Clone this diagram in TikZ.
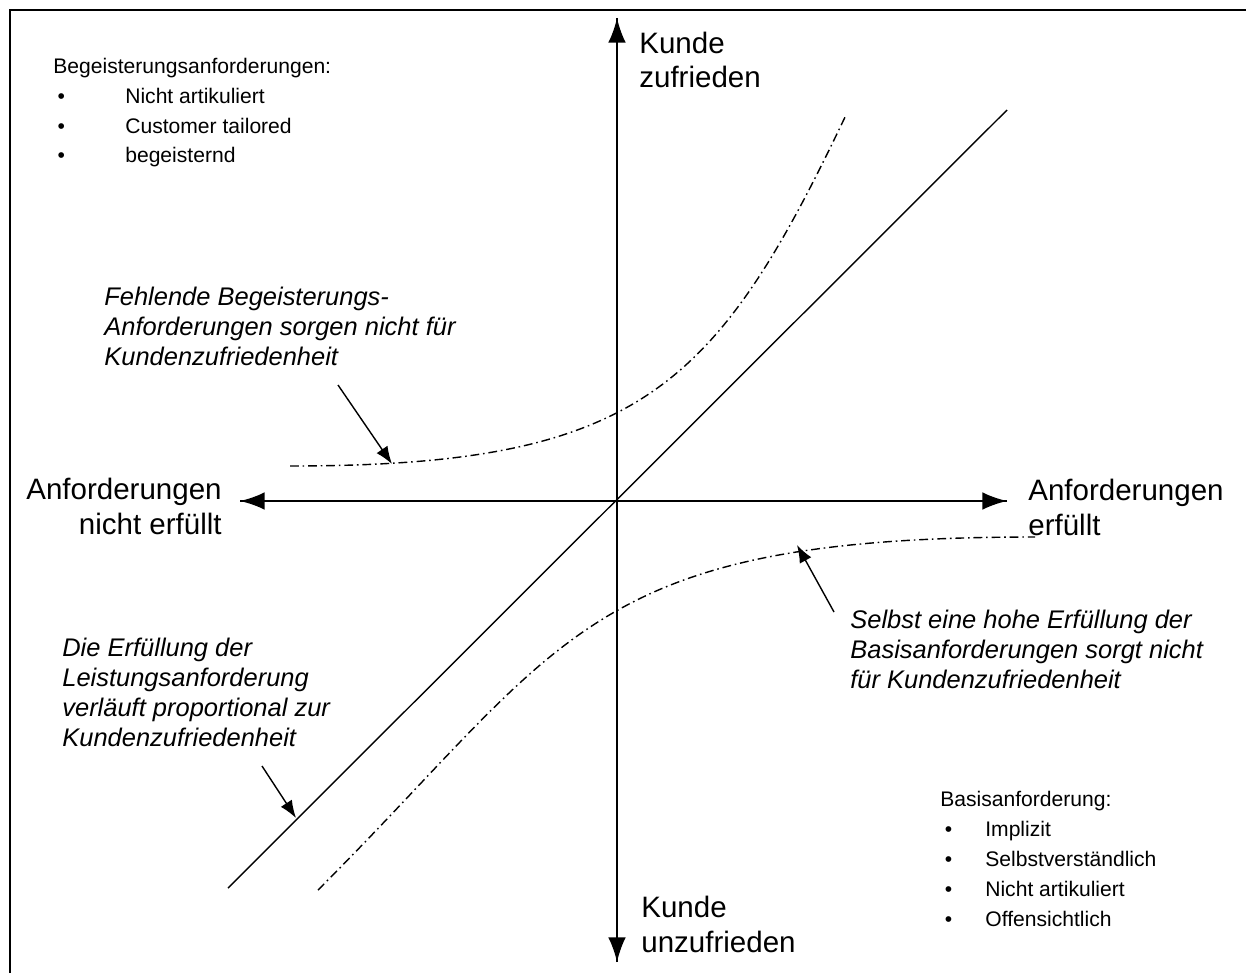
\documentclass[tikz,border=0pt]{standalone}
\usepackage{fontspec}
\setmainfont{Liberation Sans}
\usetikzlibrary{arrows.meta}
\newcommand\listdot[1]{\makebox[#1][l]{\hspace{2.5pt}\textbullet}}

\begin{document}
\begin{tikzpicture}[x=.02cm,y=-.02cm,
axis/.style={-{Latex[length=14pt,width=10pt]},line width=1.1pt},
note/.style={-{Latex[length=10pt,width=7.5pt]},line width=.8pt},
curve/.style={line width=.8pt,dash pattern=on 5pt off 2.2pt on .9pt off 2.2pt},
big/.style={inner sep=0,font=\fontsize{16.8}{19.8}\selectfont},
small/.style={inner sep=0,align=left,font=\fontsize{12}{17}\selectfont},
remark/.style={inner sep=0,align=left,font=\fontsize{14.5}{17}\selectfont\itshape}]
\useasboundingbox (0,0) rectangle (1246,973);
\draw[line width=1.6pt] (10,973)--(10,10)--(1246,10);

% axes (base anchors sit on the last line)
\coordinate (top) at (617,18);
\coordinate (bot) at (617,962);
\coordinate (lft) at (240,501);
\coordinate (rgt) at (1007,501);
\draw[axis] (bot)--(top);
\draw[axis] (top)--(bot);
\draw[axis] (rgt)--(lft);
\draw[axis] (lft)--(rgt);
\node[big,anchor=base west,align=left] (zufr) at (639,88) {Kunde\\zufrieden};
\node[big,anchor=base west,align=left] (unzufr) at (641,952) {Kunde\\unzufrieden};
\node[big,anchor=base east,align=right] (nerf) at (222,534) {Anforderungen\\nicht erfüllt};
\node[big,anchor=base west,align=left] (erf) at (1028,535) {Anforderungen\\erfüllt};

% curves
\coordinate (leisA) at (228,888);
\coordinate (leisB) at (1007,110);
\draw[line width=.8pt] (leisA)--(leisB);
\draw[curve] (290,466) .. controls (640,466) and (716,388) .. (846,115);
\draw[curve] (318,890) .. controls (568,640) and (585,537) .. (1035,537);

% lists
\node[small,anchor=base west] (begeist) at (53,163) {Begeisterungsanforderungen:\\
  \listdot{1.44cm}Nicht artikuliert\\\listdot{1.44cm}Customer tailored\\\listdot{1.44cm}begeisternd};
\node[small,anchor=base west] (basis) at (940,926) {Basisanforderung:\\
  \listdot{.9cm}Implizit\\\listdot{.9cm}Selbstverständlich\\\listdot{.9cm}Nicht artikuliert\\\listdot{.9cm}Offensichtlich};

% remarks
\node[remark,anchor=base west] (fehl) at (104,365) {Fehlende Begeisterungs-\\Anforderungen sorgen nicht für\\Kundenzufriedenheit};
\node[remark,anchor=base west] (leist) at (62,746) {Die Erfüllung der\\Leistungsanforderung\\verläuft proportional zur\\Kundenzufriedenheit};
\node[remark,anchor=base west] (selbst) at (850,688) {Selbst eine hohe Erfüllung der\\Basisanforderungen sorgt nicht\\für Kundenzufriedenheit};
\coordinate (fehlT) at (338,385);
\coordinate (fehlH) at (392,464);
\coordinate (selbT) at (834,612);
\coordinate (selbH) at (797,545);
\coordinate (leisT) at (262,766);
\coordinate (leisH) at (296,818);
\draw[note] (fehlT)--(fehlH);
\draw[note] (selbT)--(selbH);
\draw[note] (leisT)--(leisH);
\end{tikzpicture}
\end{document}
